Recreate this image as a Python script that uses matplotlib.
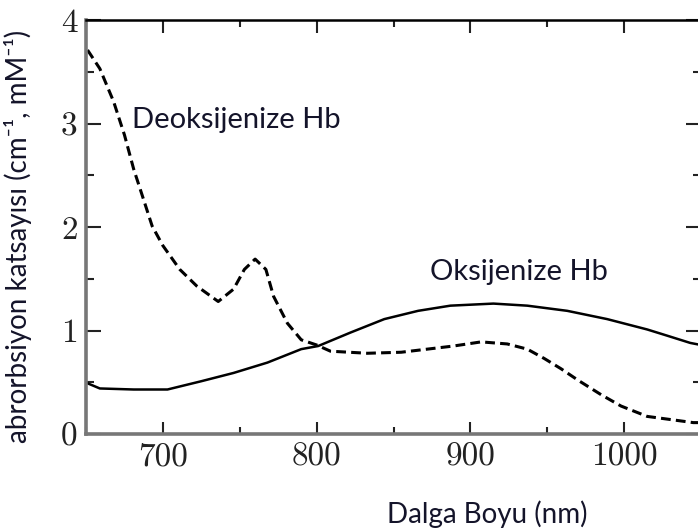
import matplotlib
matplotlib.use('Agg')
import matplotlib.pyplot as plt
from matplotlib.ticker import MultipleLocator

deoxy_nm = [651, 659, 668, 675, 681, 688, 693, 700, 711, 722, 736, 746, 753,
            760, 767, 772, 781, 790, 800, 809, 833, 855, 872, 889, 907, 924,
            937, 948, 959, 970, 985, 998, 1015, 1030, 1045, 1050]
deoxy_val = [3.71, 3.53, 3.21, 2.89, 2.56, 2.24, 2.01, 1.82, 1.59, 1.43, 1.28,
             1.40, 1.59, 1.69, 1.59, 1.33, 1.07, 0.91, 0.86, 0.80, 0.78, 0.79,
             0.82, 0.85, 0.89, 0.87, 0.82, 0.73, 0.63, 0.52, 0.38, 0.27, 0.17,
             0.14, 0.11, 0.11]

oxy_nm = [651, 659, 681, 703, 725, 746, 768, 790, 801, 822, 844, 866, 887,
          915, 937, 963, 989, 1015, 1028, 1043, 1050]
oxy_val = [0.49, 0.44, 0.43, 0.43, 0.51, 0.59, 0.69, 0.82, 0.85, 0.98, 1.11,
           1.19, 1.24, 1.26, 1.24, 1.19, 1.11, 1.01, 0.95, 0.88, 0.86]

label_deoxy = 'Deoksijenize Hb'
label_oxy = 'Oksijenize Hb'
xlabel = 'Dalga Boyu (nm)'
ylabel = 'abrorbsiyon katsayısı (cm⁻¹, mM⁻¹)'

txt_color = '#14142a'
sans = ['Lato', 'DejaVu Sans']

fig = plt.figure(figsize=(6.98, 5.32), dpi=100)
ax = fig.add_axes([86/698, (532-434)/532, (701-86)/698, (434-20)/532])

ax.plot(oxy_nm, oxy_val, color='black', lw=1.8, solid_capstyle='round')
ax.plot(deoxy_nm, deoxy_val, color='black', lw=2.2, linestyle=(0, (3.2, 1.7)))

ax.set_xlim(650, 1050)
ax.set_ylim(0, 4)
ax.xaxis.set_major_locator(MultipleLocator(100))
ax.xaxis.set_minor_locator(MultipleLocator(50))
ax.yaxis.set_major_locator(MultipleLocator(1))
ax.yaxis.set_minor_locator(MultipleLocator(0.5))

ax.tick_params(which='both', direction='in', top=True, right=True, width=1.5, color='#222222')
ax.tick_params(axis='x', which='major', length=9)
ax.tick_params(axis='x', which='minor', length=5)
ax.tick_params(axis='y', which='major', length=11)
ax.tick_params(axis='y', which='minor', length=6)
ax.tick_params(axis='x', pad=6)
ax.tick_params(axis='y', pad=6)

for lab in ax.get_xticklabels() + ax.get_yticklabels():
    lab.set_fontfamily('cmr10')
    lab.set_fontsize(24)
    lab.set_color('#222222')

ax.spines['left'].set_color('#777777')
ax.spines['left'].set_linewidth(2.6)
ax.spines['bottom'].set_color('#777777')
ax.spines['bottom'].set_linewidth(2.6)
ax.spines['top'].set_color('black')
ax.spines['top'].set_linewidth(1.8)
ax.spines['right'].set_linewidth(1.8)

ax.set_xlabel(xlabel, fontsize=20, family=sans, color=txt_color)
ax.xaxis.set_label_coords(0.652, -0.16)
ax.set_ylabel(ylabel, fontsize=20, family=sans, color=txt_color)
ax.yaxis.set_label_coords(-0.087, 0.476)

ax.text(680, 3.03, label_deoxy, fontsize=21, family=sans, color=txt_color,
        ha='left', va='center')
ax.text(874, 1.57, label_oxy, fontsize=21, family=sans, color=txt_color,
        ha='left', va='center')

fig.savefig('out.png', dpi=100)
